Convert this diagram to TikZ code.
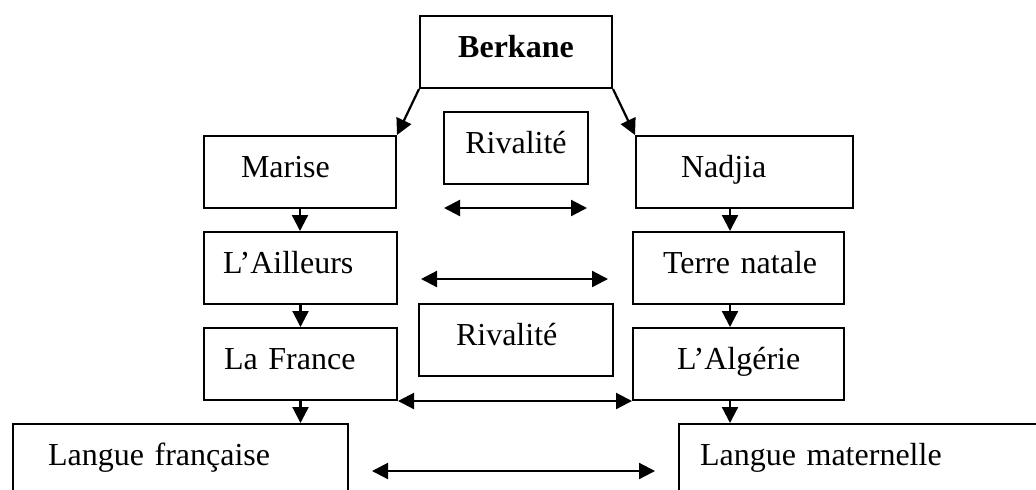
\documentclass[tikz,border=0pt]{standalone}
\usepackage{fontspec}
\setmainfont{Liberation Serif}
\usetikzlibrary{arrows.meta, positioning}

\begin{document}
\begin{tikzpicture}[x=0.5pt, y=-0.5pt]

\tikzset{
  box/.style={draw, line width=1pt, anchor=north west, inner xsep=0pt,
    inner ysep=0pt, text height=20.5pt, text depth=15.5pt, align=left,
    font=\fontsize{16}{19}\selectfont},
  tbox/.style n args={2}{box, text width=#1,
    execute at begin node={\hspace*{#2}}},
  link/.style={line width=1.1pt, -{Triangle[length=8pt, width=8pt]}},
  rival/.style={line width=1.1pt,
    {Triangle[length=8pt, width=8pt]}-{Triangle[length=8pt, width=8pt]}},
}

  % ── Frame (the page is cut along the bottom) ──────────────
  \clip (0,0) rectangle (1036,489);

  % ── Top node ──────────────────────────────────────────────
  \node[box, align=center, text width=96pt,
    font=\fontsize{16}{19}\selectfont\bfseries] (berkane) at (419,15) {Berkane};

  % ── Left column ───────────────────────────────────────────
  \node[tbox={96pt}{18.5pt}]   (marise)    at (203,135) {Marise};
  \node[tbox={96.5pt}{9.5pt}]  (ailleurs)  at (203,231) {L’Ailleurs};
  \node[tbox={96.5pt}{10pt}]   (france)    at (203,327) {La France};
  \node[tbox={167.5pt}{17.5pt}] (francaise) at (12,423)  {Langue française};

  % ── Right column ──────────────────────────────────────────
  \node[tbox={108.5pt}{22.5pt}] (nadjia)     at (635,135) {Nadjia};
  \node[tbox={105.5pt}{15pt}]   (terre)      at (632,231) {Terre natale};
  \node[tbox={105.5pt}{22pt}]   (algerie)    at (632,327) {L’Algérie};
  \node[tbox={201pt}{10.5pt}]   (maternelle) at (678,423) {Langue maternelle};

  % ── Middle: rivalry ───────────────────────────────────────
  \node[box, align=center, text width=72pt] (rival1) at (443,111) {Rivalité};
  \node[tbox={97pt}{18.5pt}] (rival2) at (418,303) {Rivalité};

  % ── Descent arrows ────────────────────────────────────────
  \draw[link] (berkane.south west) -- (marise.north east);
  \draw[link] (berkane.south east) -- (nadjia.north west);

  \draw[link] (marise.south)   -- (marise.south |- ailleurs.north);
  \draw[link] (ailleurs.south) -- (ailleurs.south |- france.north);
  \draw[link] (france.south)   -- (france.south |- francaise.north);

  \coordinate (rcol) at (730,0);
  \draw[link] (nadjia.south -| rcol)  -- (terre.north -| rcol);
  \draw[link] (terre.south -| rcol)   -- (algerie.north -| rcol);
  \draw[link] (algerie.south -| rcol) -- (maternelle.north -| rcol);

  % ── Rivalry arrows ────────────────────────────────────────
  \foreach \name/\xa/\xb/\y in {one/444/587/208, two/421/608/279, four/372/655/471}{
    \coordinate (\name a) at (\xa,\y);
    \coordinate (\name b) at (\xb,\y);
    \draw[rival] (\name a) -- (\name b);
  }
  \draw[rival] (france.south east) -- (algerie.south west);

\end{tikzpicture}
\end{document}
